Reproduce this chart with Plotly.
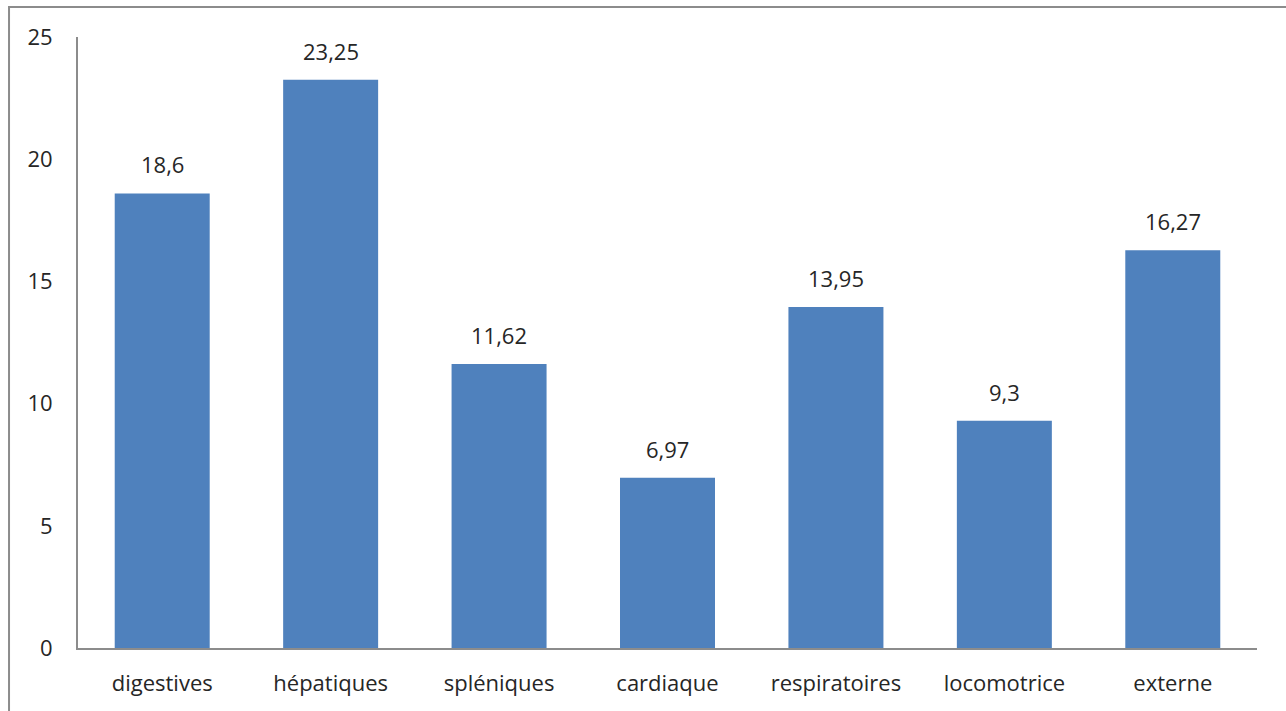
import plotly.graph_objects as go

categories = ["digestives", "hépatiques", "spléniques", "cardiaque",
              "respiratoires", "locomotrice", "externe"]
values = [18.6, 23.25, 11.62, 6.97, 13.95, 9.3, 16.27]
y_ticks = [0, 5, 10, 15, 20, 25]

font = dict(family="Open Sans", size=22, color="#262626")

fig = go.Figure(go.Bar(
    x=categories, y=values,
    marker=dict(color="#4F81BD", line=dict(width=0)),
    hoverinfo="x+y",
))

# value labels above the bars, decimal comma as in the original
for cat, val in zip(categories, values):
    fig.add_annotation(
        x=cat, y=val, text=f"{val:g}".replace(".", ","),
        showarrow=False, yanchor="bottom", yshift=12, font=font,
    )

# outer frame (only top and left edges fall inside the picture)
fig.add_shape(type="rect", xref="paper", yref="paper",
              x0=-0.0585, y0=-0.3, x1=1.2, y1=1.049,
              line=dict(color="#8c8c8c", width=2), layer="below")

fig.update_layout(
    width=1286, height=711,
    margin=dict(l=78, r=29, t=37, b=63),
    paper_bgcolor="white", plot_bgcolor="white",
    bargap=0.436,
    showlegend=False,
    font=font,
    xaxis=dict(showline=True, linecolor="#8c8c8c", linewidth=2,
               showgrid=False, ticks="", ticklabelstandoff=15,
               tickfont=font),
    yaxis=dict(range=[0, 25], tickvals=y_ticks, showline=True,
               linecolor="#8c8c8c", linewidth=2, showgrid=False,
               zeroline=False, ticks="", ticklabelstandoff=19,
               tickfont=font),
)

# drop the default body margin so the figure sits at the window origin
fig.write_html("out.html", config={"displayModeBar": False},
               post_script="document.body.style.margin='0';")
